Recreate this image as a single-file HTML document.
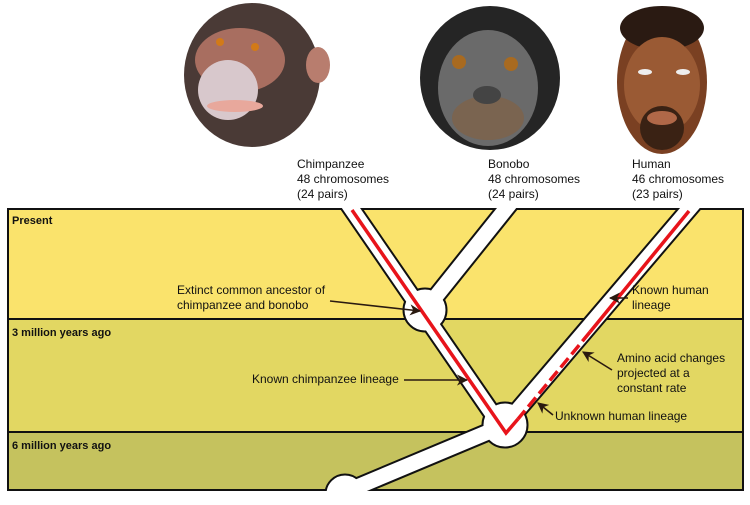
<!DOCTYPE html>
<html><head><style>
body{margin:0;background:#fff;width:750px;height:500px;overflow:hidden;font-family:"Liberation Sans",sans-serif}
</style></head><body>
<svg width="750" height="500" viewBox="0 0 750 500" xmlns="http://www.w3.org/2000/svg" font-family="Liberation Sans, sans-serif">
<defs>
<marker id="ah" viewBox="0 0 10 10" refX="9" refY="5" markerWidth="7" markerHeight="7" orient="auto"><path d="M0,0 L10,5 L0,10 L3,5 z" fill="#2a1a10"/></marker>
<clipPath id="fr"><rect x="0" y="208" width="750" height="283"/></clipPath>
</defs>
<rect x="8" y="209" width="735" height="110" fill="#fae36c"/>
<rect x="8" y="319" width="735" height="113" fill="#e2d762"/>
<rect x="8" y="432" width="735" height="58" fill="#c5c25e"/>
<g stroke="#111" stroke-width="2" fill="none">
<rect x="8" y="209" width="735" height="281"/>
<line x1="8" y1="319" x2="743" y2="319"/>
<line x1="8" y1="432" x2="743" y2="432"/>
</g>
<g clip-path="url(#fr)">
<g stroke="#111" fill="#111">
<path d="M342,195 L505,432 M517,195 L425,310 M701,195 L505,425 M505,425 L345,492" stroke-width="19" fill="none"/>
<circle cx="425" cy="310" r="22"/>
<circle cx="505" cy="425" r="23"/>
<circle cx="345" cy="494" r="20"/>
</g>
<g stroke="#fff" fill="#fff">
<path d="M342,195 L505,432 M517,195 L425,310 M701,195 L505,425 M505,425 L345,492" stroke-width="15" fill="none"/>
<circle cx="425" cy="310" r="20"/>
<circle cx="505" cy="425" r="21"/>
<circle cx="345" cy="494" r="18"/>
</g>
</g>
<rect x="0" y="491" width="750" height="9" fill="#fff"/>
<g stroke="#e8141b" stroke-width="3.5" fill="none">
<path d="M352,210 L506,433 L518,419"/>
<path d="M689,211 L590,332"/>
<path d="M590,332 L518,419" stroke-dasharray="12,5"/>
</g>
<g font-size="11" font-weight="bold" fill="#111">
<text x="12" y="224">Present</text>
<text x="12" y="336">3 million years ago</text>
<text x="12" y="449">6 million years ago</text>
</g>
<g font-size="12" fill="#111">
<text x="177" y="294">Extinct common ancestor of</text>
<text x="177" y="309">chimpanzee and bonobo</text>
<text x="632" y="294">Known human</text>
<text x="632" y="309">lineage</text>
<text x="252" y="383">Known chimpanzee lineage</text>
<text x="617" y="362">Amino acid changes</text>
<text x="617" y="377">projected at a</text>
<text x="617" y="392">constant rate</text>
<text x="555" y="420">Unknown human lineage</text>
<text x="297" y="168">Chimpanzee</text>
<text x="297" y="183">48 chromosomes</text>
<text x="297" y="198">(24 pairs)</text>
<text x="488" y="168">Bonobo</text>
<text x="488" y="183">48 chromosomes</text>
<text x="488" y="198">(24 pairs)</text>
<text x="632" y="168">Human</text>
<text x="632" y="183">46 chromosomes</text>
<text x="632" y="198">(23 pairs)</text>
</g>
<g stroke="#2a1a10" stroke-width="1.6" fill="none" marker-end="url(#ah)">
<line x1="330" y1="301" x2="420" y2="311"/>
<line x1="628" y1="298" x2="610" y2="298"/>
<line x1="404" y1="380" x2="467" y2="380"/>
<line x1="612" y1="370" x2="583" y2="352"/>
<line x1="553" y1="415" x2="538" y2="403"/>
</g>
<g>
<ellipse cx="252" cy="75" rx="68" ry="72" fill="#4a3a36"/>
<ellipse cx="318" cy="65" rx="12" ry="18" fill="#b87d6e"/>
<ellipse cx="240" cy="60" rx="45" ry="32" fill="#a86e60"/>
<ellipse cx="228" cy="90" rx="30" ry="30" fill="#d8c8cc"/>
<ellipse cx="235" cy="106" rx="28" ry="6" fill="#e8a89c"/>
<circle cx="220" cy="42" r="4" fill="#d27a18"/><circle cx="255" cy="47" r="4" fill="#d27a18"/>
</g>
<g>
<ellipse cx="490" cy="78" rx="70" ry="72" fill="#252525"/>
<ellipse cx="488" cy="88" rx="50" ry="58" fill="#6a6a6a"/>
<ellipse cx="488" cy="118" rx="36" ry="22" fill="#7a6450"/>
<circle cx="459" cy="62" r="7" fill="#a86a20"/><circle cx="511" cy="64" r="7" fill="#a86a20"/>
<ellipse cx="487" cy="95" rx="14" ry="9" fill="#444"/>
</g>
<g>
<ellipse cx="662" cy="82" rx="45" ry="72" fill="#7a4022"/>
<ellipse cx="662" cy="28" rx="42" ry="22" fill="#2a1a12"/>
<ellipse cx="662" cy="85" rx="38" ry="48" fill="#9a5a34"/>
<ellipse cx="662" cy="128" rx="22" ry="22" fill="#3a2214"/>
<ellipse cx="662" cy="118" rx="15" ry="7" fill="#b06848"/>
<ellipse cx="645" cy="72" rx="7" ry="3" fill="#eee"/><ellipse cx="683" cy="72" rx="7" ry="3" fill="#eee"/>
</g>
</svg>
</body></html>
